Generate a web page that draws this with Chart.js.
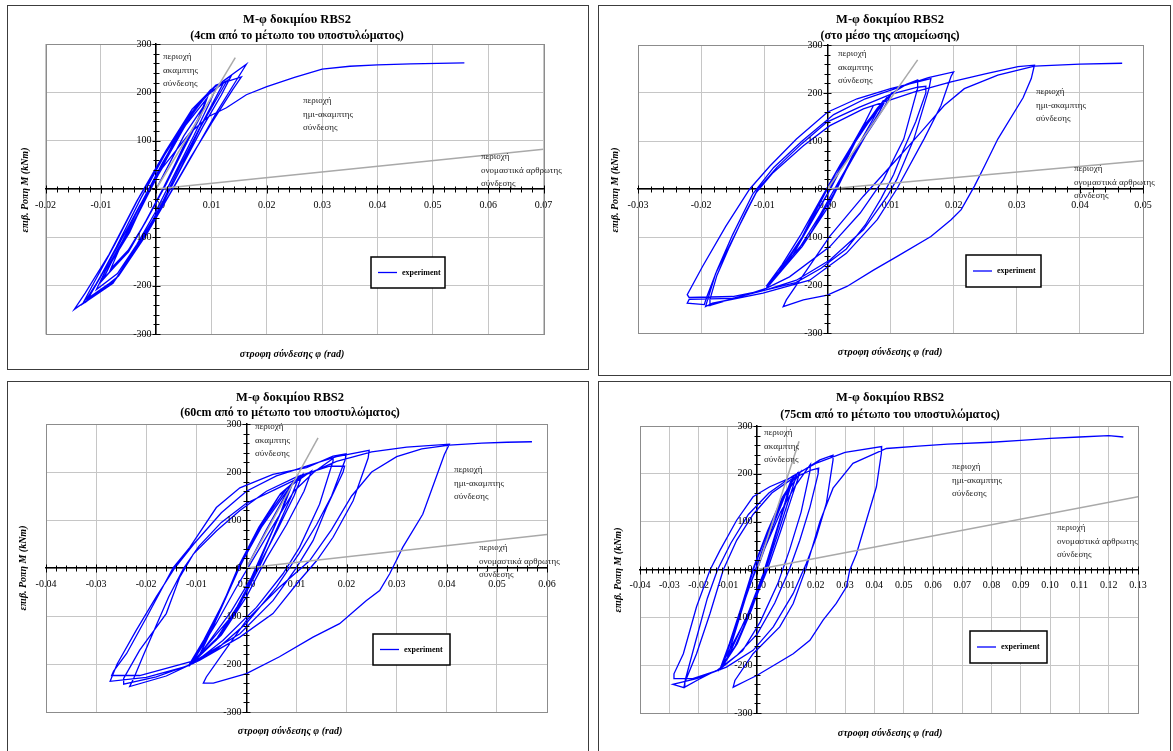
<!DOCTYPE html>
<html><head><meta charset="utf-8">
<script src="https://cdn.jsdelivr.net/npm/chart.js@4.4.1/dist/chart.umd.min.js"></script>
<style>
html,body{margin:0;padding:0;background:#fff;width:1173px;height:751px;overflow:hidden}
.panel{position:absolute;border:1px solid #3c3c3c;box-sizing:border-box;background:#fff}
canvas{position:absolute;left:0;top:0}
</style></head><body>
<div class="panel" style="left:7px;top:5px;width:582px;height:365px"></div>
<div class="panel" style="left:598px;top:5px;width:573px;height:371px"></div>
<div class="panel" style="left:7px;top:381px;width:582px;height:380px"></div>
<div class="panel" style="left:598px;top:381px;width:573px;height:380px"></div>
<canvas id="c1" width="1173" height="751"></canvas>
<canvas id="c2" width="1173" height="751"></canvas>
<canvas id="c3" width="1173" height="751"></canvas>
<canvas id="c4" width="1173" height="751"></canvas>
<script>
// ---------------- text ----------------
const MAIN_TITLE = 'M-φ δοκιμίου RBS2';
const SUBTITLES = ['(4cm από το μέτωπο του υποστυλώματος)', '(στο μέσο της απομείωσης)',
                   '(60cm από το μέτωπο του υποστυλώματος)', '(75cm από το μέτωπο του υποστυλώματος)'];
const X_TITLE = 'στροφη σύνδεσης φ (rad)';
const Y_TITLE = 'επιβ. Ροπη M (kNm)';
const LEGEND_LABEL = 'experiment';
const NOTE_RIGID = ['περιοχή', 'ακαμπτης', 'σύνδεσης'];
const NOTE_SEMI = ['περιοχή', 'ημι-ακαμπτης', 'σύνδεσης'];
const NOTE_PINNED = ['περιοχή', 'ονομαστικά αρθρωτης', 'σύνδεσης'];

// ---------------- tick labels ----------------
const Y_TICKS = ['-300', '-200', '-100', '0', '100', '200', '300'];
const X_TICKS_1 = ['-0.02', '-0.01', '0.00', '0.01', '0.02', '0.03', '0.04', '0.05', '0.06', '0.07'];
const X_TICKS_2 = ['-0.03', '-0.02', '-0.01', '0.00', '0.01', '0.02', '0.03', '0.04', '0.05'];
const X_TICKS_3 = ['-0.04', '-0.03', '-0.02', '-0.01', '0.00', '0.01', '0.02', '0.03', '0.04', '0.05', '0.06'];
const X_TICKS_4 = ['-0.04', '-0.03', '-0.02', '-0.01', '0.00', '0.01', '0.02', '0.03', '0.04', '0.05', '0.06',
                   '0.07', '0.08', '0.09', '0.10', '0.11', '0.12', '0.13'];

// ---------------- reference stiffness lines [φ, M] ----------------
const RIGID_1 = [[0, 0], [0.0143, 272]];
const PINNED_1 = [[0, 0], [0.07, 82]];
const RIGID_2 = [[0, 0], [0.0143, 269]];
const PINNED_2 = [[0, 0], [0.05, 59]];
const RIGID_3 = [[0, 0], [0.0143, 271]];
const PINNED_3 = [[0, 0], [0.06, 70]];
const RIGID_4 = [[0, 0], [0.0143, 268]];
const PINNED_4 = [[0, 0], [0.13, 152]];

// ---------------- experiment curves [φ (rad), M (kNm)] ----------------
const EXP_1 = [
 [0,0],[0.0025,55],[0.005,110],[0.0085,170],
 [0.007,130],[0.004,65],[0.0012,0],[-0.0018,-65],[-0.0045,-120],[-0.0082,-165],
 [-0.0065,-120],[-0.0035,-55],[-0.001,5],[0.002,70],[0.0055,135],[0.0092,188],
 [0.008,150],[0.0055,95],[0.0018,10],[-0.0015,-60],[-0.005,-130],[-0.0095,-185],
 [-0.0078,-145],[-0.0045,-80],[-0.0012,-5],[0.002,65],[0.0052,130],[0.009,185],
 [0.0078,150],[0.005,90],[0.0015,5],[-0.002,-70],[-0.0055,-135],[-0.0098,-190],
 [-0.008,-150],[-0.0048,-90],[-0.0018,-15],[0.0015,60],[0.0045,125],[0.0078,180],[0.0108,208],
 [0.0095,175],[0.0068,110],[0.0035,35],[0,-45],[-0.0035,-115],[-0.007,-175],[-0.0108,-208],
 [-0.0092,-170],[-0.0062,-110],[-0.0025,-25],[0.0012,55],[0.005,130],[0.0088,190],[0.0122,220],
 [0.0108,190],[0.0078,125],[0.0042,45],[0.0008,-35],[-0.0028,-110],[-0.0072,-185],[-0.0122,-225],
 [-0.0102,-185],[-0.0068,-115],[-0.0025,-25],[0.0018,65],[0.0055,140],[0.0092,195],[0.0128,224],
 [0.0112,192],[0.008,128],[0.0045,45],[0.001,-35],[-0.003,-112],[-0.0075,-190],[-0.0126,-228],
 [-0.0105,-190],[-0.0072,-120],[-0.0028,-20],[0.0015,70],[0.0058,150],[0.0098,205],[0.0136,235],
 [0.0118,195],[0.0085,130],[0.0048,50],[0.0012,-30],[-0.0028,-105],[-0.0078,-195],[-0.0133,-238],
 [-0.0113,-195],[-0.0075,-115],[-0.003,-15],[0.0018,80],[0.0065,165],[0.0108,215],[0.0154,232],
 [0.0138,205],[0.0102,140],[0.0062,65],[0.0022,-15],[-0.002,-95],[-0.0075,-190],[-0.0118,-225],[-0.0148,-249],
 [-0.0128,-215],[-0.0085,-135],[-0.0035,-25],[0.0015,70],[0.0062,155],[0.0105,210],[0.0163,258],
 [0.0145,225],[0.011,160],[0.0068,75],[0.0025,-10],[-0.0018,-95],[-0.0068,-180],[-0.0125,-232],
 [-0.0108,-195],[-0.007,-120],[-0.003,-35],[0.0012,45],[0.006,115],[0.0095,150],[0.0127,168],
 [0.0163,195],[0.02,212],[0.025,231],[0.03,248],[0.035,254],[0.04,257],[0.046,259],[0.0557,261]
];
const EXP_2 = [
 [0,0],[0.003,60],[0.0073,174],
 [0.006,140],[0.003,70],[0,-10],[-0.004,-100],[-0.0086,-190],
 [-0.006,-150],[-0.003,-80],[0.0005,0],[0.004,90],[0.0089,185],
 [0.007,140],[0.004,70],[0.001,-10],[-0.003,-100],[-0.0097,-203],
 [-0.0072,-158],[-0.0042,-95],[-0.0008,-15],[0.0025,60],[0.006,135],[0.0095,192],
 [0.0082,160],[0.0055,100],[0.0022,25],[-0.0012,-55],[-0.005,-135],[-0.0092,-200],
 [-0.007,-160],[-0.004,-100],[-0.001,-20],[0.002,50],[0.006,130],[0.0103,202],
 [0.009,170],[0.006,110],[0.003,40],[0,-40],[-0.004,-120],[-0.0097,-207],
 [-0.007,-165],[-0.004,-100],[-0.001,-25],[0.002,50],[0.005,115],[0.008,170],[0.0103,200],[0.0125,218],[0.0143,227],
 [0.0143,210],[0.0121,104],[0.0089,20],[0.0052,-50],[0.0004,-120],[-0.006,-183],[-0.0097,-207],[-0.014,-225],[-0.0187,-243],
 [-0.0186,-230],[-0.0175,-180],[-0.0155,-120],[-0.013,-50],[-0.011,0],[-0.008,45],[-0.004,95],[0,140],[0.005,170],[0.01,197],[0.0143,212],[0.0156,214],
 [0.0156,200],[0.014,140],[0.012,80],[0.0105,30],[0.0085,-20],[0.006,-75],[0.003,-125],[-0.001,-165],[-0.005,-195],[-0.0097,-210],[-0.015,-224],[-0.0219,-226],
 [-0.0222,-220],[-0.0198,-162],[-0.0161,-78],[-0.0123,0],[-0.0091,48],[-0.0049,104],[0,160],[0.0047,188],[0.01,209],[0.0143,223],[0.0164,230],
 [0.0161,209],[0.0137,104],[0.011,20],[0.0095,-15],[0.0057,-85],[0.0004,-148],[-0.0049,-190],[-0.0097,-210],[-0.015,-228],[-0.0219,-230],[-0.0222,-238],[-0.0195,-241],
 [-0.0192,-228],[-0.0175,-170],[-0.015,-95],[-0.0118,-10],[-0.0085,45],[-0.004,100],[0.001,155],[0.006,188],[0.011,210],[0.016,232],[0.02,244],
 [0.0196,235],[0.018,174],[0.0153,104],[0.011,0],[0.0079,-64],[0.003,-134],[-0.0028,-190],[-0.0102,-217],[-0.0182,-238],[-0.0193,-245],
 [-0.0177,-176],[-0.014,-78],[-0.0113,-8],[-0.0086,34],[-0.0038,90],[0.0004,132],[0.0057,167],[0.0137,202],[0.0196,223],[0.025,240],[0.0302,255],[0.0328,258],
 [0.0323,230],[0.031,190],[0.027,104],[0.0249,48],[0.0233,6],[0.0212,-43],[0.0196,-64],[0.0164,-99],[0.011,-141],[0.0073,-169],[0.0031,-203],[0,-221],[-0.0038,-231],[-0.007,-245],
 [-0.0065,-231],[0.0004,-98],[0.0057,-15],[0.011,62],[0.0148,118],[0.0185,174],[0.0217,209],[0.027,237],[0.0328,256],[0.04,260],[0.0467,262]
];
const EXP_3 = [
 [0,0],[0.004,80],[0.0086,167],
 [0.007,120],[0.004,50],[0.001,-20],[-0.003,-90],[-0.0093,-180],
 [-0.007,-130],[-0.004,-60],[-0.001,10],[0.003,85],[0.0093,178],
 [0.0075,130],[0.0045,60],[0.0015,-15],[-0.0025,-95],[-0.0106,-195],
 [-0.0082,-150],[-0.0048,-75],[-0.0012,5],[0.003,90],[0.0068,155],[0.0112,195],
 [0.0095,150],[0.0062,80],[0.0025,5],[-0.0018,-80],[-0.0058,-145],[-0.011,-198],
 [-0.008,-145],[-0.0045,-70],[-0.0015,5],[0.0025,85],[0.0065,150],[0.0105,190],
 [0.009,150],[0.006,80],[0.0025,0],[-0.002,-90],[-0.006,-150],[-0.0113,-199],
 [-0.0085,-150],[-0.005,-80],[-0.0015,0],[0.003,90],[0.008,165],[0.013,202],
 [0.0115,160],[0.008,90],[0.004,20],[0,-60],[-0.005,-140],[-0.0115,-205],
 [-0.0095,-175],[-0.006,-115],[-0.002,-40],[0.002,30],[0.006,100],[0.0095,160],[0.0135,200],[0.0173,228],
 [0.0173,223],[0.0146,133],[0.0106,43],[0.0073,-12],[0.002,-82],[-0.0047,-151],[-0.0106,-199],[-0.018,-227],[-0.0245,-242],
 [-0.0245,-230],[-0.0213,-171],[-0.016,-95],[-0.0133,-19],[-0.0106,29],[-0.006,77],[-0.0013,120],[0.004,160],[0.01,190],[0.0166,212],[0.0196,212],
 [0.0193,200],[0.016,126],[0.0133,57],[0.01,1],[0.0053,-68],[-0.0013,-137],[-0.01,-192],[-0.0213,-224],[-0.0269,-224],
 [-0.0265,-215],[-0.0239,-178],[-0.0199,-102],[-0.0146,1],[-0.0113,43],[-0.006,126],[-0.0013,167],[0.0053,195],[0.012,209],[0.0173,233],[0.0199,238],
 [0.0197,225],[0.017,150],[0.014,90],[0.0105,30],[0.006,-40],[0,-115],[-0.006,-170],[-0.012,-205],[-0.02,-228],[-0.0272,-236],
 [-0.0258,-200],[-0.022,-130],[-0.018,-60],[-0.0143,0],[-0.0105,50],[-0.005,115],[0,160],[0.006,192],[0.012,212],[0.018,232],[0.0245,245],
 [0.0243,229],[0.0213,140],[0.0173,64],[0.014,15],[0.0106,-26],[0.0053,-95],[-0.0013,-144],[-0.0093,-192],[-0.016,-225],[-0.0233,-247],
 [-0.0225,-230],[-0.0205,-180],[-0.018,-120],[-0.0155,-60],[-0.0125,0],[-0.0095,45],[-0.005,95],[0,135],[0.006,165],[0.012,195],[0.018,222],[0.025,242],[0.032,252],[0.0405,258],
 [0.0395,236],[0.0352,112],[0.0312,43],[0.0299,15],[0.0286,-12],[0.0266,-47],[0.0239,-68],[0.0186,-116],[0.0133,-144],[0.0066,-185],[0,-220],[-0.0066,-240],[-0.0086,-240],
 [-0.008,-227],[-0.0047,-178],[0,-109],[0.0066,-40],[0.0126,15],[0.017,80],[0.021,150],[0.025,200],[0.03,232],[0.035,248],[0.0405,256],[0.047,260],[0.052,262],[0.057,263]
];
const EXP_4 = [
 [0,0],[0.005,85],[0.0115,185],
 [0.0095,140],[0.006,70],[0.002,-10],[-0.003,-90],[-0.0105,-190],
 [-0.008,-140],[-0.004,-60],[0,10],[0.005,95],[0.0125,195],
 [0.01,145],[0.0065,75],[0.0025,-5],[-0.0035,-100],[-0.0122,-200],
 [-0.0095,-155],[-0.0055,-80],[-0.0015,0],[0.0035,80],[0.0085,150],[0.0135,198],
 [0.011,150],[0.0072,78],[0.003,0],[-0.002,-85],[-0.0068,-155],[-0.0118,-202],
 [-0.009,-150],[-0.005,-75],[-0.001,5],[0.004,85],[0.009,150],[0.0145,201],
 [0.012,155],[0.008,80],[0.0035,0],[-0.0025,-90],[-0.0075,-160],[-0.0125,-205],
 [-0.01,-165],[-0.006,-95],[-0.002,-25],[0.003,50],[0.008,120],[0.013,175],[0.0182,220],
 [0.018,205],[0.015,120],[0.011,40],[0.007,-30],[0.001,-110],[-0.005,-170],[-0.012,-205],[-0.02,-230],[-0.0247,-246],
 [-0.0247,-236],[-0.0207,-176],[-0.0161,-92],[-0.0116,-1],[-0.007,61],[-0.0014,115],[0.005,160],[0.012,190],[0.0185,208],[0.021,212],
 [0.0208,200],[0.018,130],[0.0145,60],[0.011,0],[0.006,-70],[0,-135],[-0.007,-180],[-0.014,-212],[-0.022,-228],[-0.0284,-228],
 [-0.0284,-218],[-0.0252,-176],[-0.0207,-78],[-0.0161,-1],[-0.0127,40],[-0.007,103],[-0.0014,152],[0.0043,173],[0.0123,194],[0.0214,229],[0.0259,239],
 [0.0259,229],[0.0236,138],[0.0202,68],[0.0168,13],[0.0123,-50],[0.0055,-120],[-0.0014,-169],[-0.0105,-204],[-0.0207,-228],[-0.0288,-240],[-0.025,-247],
 [-0.0245,-230],[-0.021,-150],[-0.017,-60],[-0.0135,0],[-0.009,55],[-0.003,115],[0.004,160],[0.012,195],[0.02,222],[0.03,245],[0.0425,257],
 [0.0424,243],[0.0407,173],[0.0373,103],[0.0339,33],[0.0316,-1],[0.0305,-36],[0.027,-71],[0.0225,-106],[0.018,-148],[0.0123,-176],[0.0066,-197],[0,-221],[-0.0036,-232],[-0.0082,-246],
 [-0.0076,-232],[-0.0014,-176],[0.0077,-120],[0.0123,-71],[0.0168,5],[0.0214,100],[0.0259,170],[0.0327,222],[0.0441,253],[0.055,258],[0.065,262],[0.08,266],[0.09,270],[0.1,274],[0.11,277],[0.12,280],[0.125,277]
];

// ---------------- layout (page pixels) ----------------
const PANELS = [
  { id:'c1', sub:0, xTicks:X_TICKS_1, exp:EXP_1, rigid:RIGID_1, pinned:PINNED_1,
    plot:{l:45.5, r:543.5, t:44, b:334},
    title:{x:297, y:20, y2:36}, xTitle:{x:292, y:354}, yTitle:{x:25, y:190},
    legend:{x:371, y:257, w:74, h:31},
    notes:[{x:163, y:57, lines:NOTE_RIGID}, {x:303, y:101, lines:NOTE_SEMI}, {x:481, y:157, lines:NOTE_PINNED}] },
  { id:'c2', sub:1, xTicks:X_TICKS_2, exp:EXP_2, rigid:RIGID_2, pinned:PINNED_2,
    plot:{l:638, r:1143, t:45, b:333},
    title:{x:890, y:20, y2:36}, xTitle:{x:890, y:352}, yTitle:{x:615, y:190},
    legend:{x:966, y:255, w:75, h:32},
    notes:[{x:838, y:54, lines:NOTE_RIGID}, {x:1036, y:92, lines:NOTE_SEMI}, {x:1074, y:169, lines:NOTE_PINNED}] },
  { id:'c3', sub:2, xTicks:X_TICKS_3, exp:EXP_3, rigid:RIGID_3, pinned:PINNED_3,
    plot:{l:46, r:547, t:424, b:712},
    title:{x:290, y:398, y2:413}, xTitle:{x:290, y:731}, yTitle:{x:23, y:568},
    legend:{x:373, y:634, w:77, h:31},
    notes:[{x:255, y:427, lines:NOTE_RIGID}, {x:454, y:470, lines:NOTE_SEMI}, {x:479, y:548, lines:NOTE_PINNED}] },
  { id:'c4', sub:3, xTicks:X_TICKS_4, exp:EXP_4, rigid:RIGID_4, pinned:PINNED_4,
    plot:{l:640, r:1138, t:426, b:713},
    title:{x:890, y:398, y2:415}, xTitle:{x:890, y:733}, yTitle:{x:618, y:570},
    legend:{x:970, y:631, w:77, h:32},
    notes:[{x:764, y:433, lines:NOTE_RIGID}, {x:952, y:467, lines:NOTE_SEMI}, {x:1057, y:528, lines:NOTE_PINNED}] }
];

const SERIF = '"Liberation Serif", "Times New Roman", serif';
const BLUE = '#0000ff';
const GRAY_REF = '#a9a9a9';

function toPts(arr) { return arr.map(p => ({x: p[0], y: p[1]})); }

function makeDecor(p) {
  return {
    id: 'decor_' + p.id,
    afterDraw(chart) {
      const ctx = chart.ctx, ca = chart.chartArea, sx = chart.scales.x, sy = chart.scales.y;
      ctx.save();
      // plot-area frame
      ctx.strokeStyle = '#8c8c8c'; ctx.lineWidth = 1;
      ctx.strokeRect(Math.round(ca.left) + 0.5, Math.round(ca.top) + 0.5,
                     Math.round(ca.right - ca.left), Math.round(ca.bottom - ca.top));
      // tick marks crossing the axes
      const x0 = Math.round(sx.getPixelForValue(0)) + 0.5;
      const y0 = Math.round(sy.getPixelForValue(0)) + 0.5;
      ctx.strokeStyle = '#000'; ctx.lineWidth = 1; ctx.beginPath();
      const k0 = Math.round(sx.min / 0.002), k1 = Math.round(sx.max / 0.002);
      for (let k = k0; k <= k1; k++) {
        const px = Math.round(sx.getPixelForValue(k * 0.002)) + 0.5, h = (k % 5 === 0) ? 4 : 3;
        ctx.moveTo(px, y0 - h); ctx.lineTo(px, y0 + h);
      }
      for (let k = -15; k <= 15; k++) {
        const py = Math.round(sy.getPixelForValue(k * 20)) + 0.5, h = (k % 5 === 0) ? 4 : 3;
        ctx.moveTo(x0 - h, py); ctx.lineTo(x0 + h, py);
      }
      ctx.stroke();
      // y tick labels (left of the vertical axis)
      ctx.fillStyle = '#000'; ctx.textAlign = 'right'; ctx.textBaseline = 'middle';
      ctx.font = '10px ' + SERIF;
      Y_TICKS.forEach(t => ctx.fillText(t, x0 - 5, sy.getPixelForValue(Number(t))));
      // titles
      ctx.textAlign = 'center';
      ctx.font = 'bold 12.5px ' + SERIF;
      ctx.fillText(MAIN_TITLE, p.title.x, p.title.y);
      ctx.font = 'bold 12px ' + SERIF;
      ctx.fillText(SUBTITLES[p.sub], p.title.x, p.title.y2);
      ctx.font = 'italic bold 10px ' + SERIF;
      ctx.fillText(X_TITLE, p.xTitle.x, p.xTitle.y);
      ctx.save(); ctx.translate(p.yTitle.x, p.yTitle.y); ctx.rotate(-Math.PI / 2);
      ctx.fillText(Y_TITLE, 0, 0); ctx.restore();
      // region notes
      ctx.textAlign = 'left'; ctx.font = '9px ' + SERIF; ctx.fillStyle = '#222';
      p.notes.forEach(n => n.lines.forEach((s, i) => ctx.fillText(s, n.x, n.y + i * 13.5)));
      // legend box
      const L = p.legend;
      ctx.fillStyle = '#fff'; ctx.fillRect(L.x, L.y, L.w, L.h);
      ctx.strokeStyle = '#000'; ctx.lineWidth = 1.5; ctx.strokeRect(L.x, L.y, L.w, L.h);
      const my = L.y + L.h / 2;
      ctx.strokeStyle = BLUE; ctx.lineWidth = 1.3; ctx.beginPath();
      ctx.moveTo(L.x + 7, my); ctx.lineTo(L.x + 26, my); ctx.stroke();
      ctx.fillStyle = '#000'; ctx.font = 'bold 8px ' + SERIF;
      ctx.fillText(LEGEND_LABEL, L.x + 31, my);
      ctx.restore();
    }
  };
}

function build(p) {
  const xv = p.xTicks.map(Number), yv = Y_TICKS.map(Number);
  const tickFont = {family: SERIF, size: 10};
  new Chart(document.getElementById(p.id), {
    type: 'scatter',
    data: { datasets: [
      {data: toPts(p.rigid), borderColor: GRAY_REF, borderWidth: 1.5, showLine: true, pointRadius: 0},
      {data: toPts(p.pinned), borderColor: GRAY_REF, borderWidth: 1.5, showLine: true, pointRadius: 0},
      {data: toPts(p.exp), borderColor: BLUE, borderWidth: 1.3, showLine: true, pointRadius: 0, tension: 0}
    ]},
    options: {
      responsive: false, animation: false, events: [],
      layout: { autoPadding: false,
        padding: {left: p.plot.l, top: p.plot.t, right: 1173 - p.plot.r, bottom: 751 - p.plot.b} },
      plugins: { legend: {display: false}, title: {display: false}, tooltip: {enabled: false} },
      scales: {
        x: { type: 'linear', min: xv[0], max: xv[xv.length - 1], position: {y: 0},
             afterFit: s => { s.height = 0; },
             afterBuildTicks: s => { s.ticks = xv.map(v => ({value: v})); },
             ticks: { callback: (v, i) => p.xTicks[i], font: tickFont, color: '#000', padding: 10,
                      maxRotation: 0, minRotation: 0, autoSkip: false },
             grid: { color: '#c6c6c6', lineWidth: 1, drawTicks: false },
             border: { display: true, color: '#000', width: 1.5 } },
        y: { type: 'linear', min: yv[0], max: yv[yv.length - 1], position: {x: 0},
             afterFit: s => { s.width = 0; },
             afterBuildTicks: s => { s.ticks = yv.map(v => ({value: v})); },
             ticks: { display: false },
             grid: { color: '#c6c6c6', lineWidth: 1, drawTicks: false },
             border: { display: true, color: '#000', width: 1.5 } }
      }
    },
    plugins: [makeDecor(p)]
  });
}
PANELS.forEach(build);
</script>
</body></html>
